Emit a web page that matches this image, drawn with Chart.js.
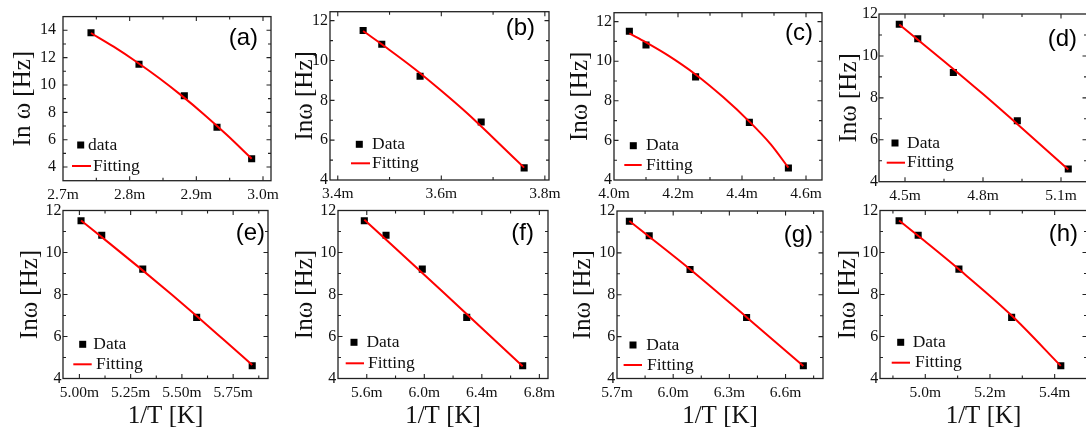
<!DOCTYPE html>
<html><head><meta charset="utf-8">
<script src="https://cdn.jsdelivr.net/npm/chart.js@4.4.1/dist/chart.umd.min.js"></script>
<style>
html,body{margin:0;padding:0;background:#fff;overflow:hidden;width:1086px;height:434px;}
#wrap{position:relative;width:1086px;height:434px;overflow:hidden;background:#fff;}
#wrap canvas{position:absolute;}
</style></head><body><div id="wrap"></div>
<script>
// ---------------- data ----------------
const panelNames = ['(a)','(b)','(c)','(d)','(e)','(f)','(g)','(h)'];
const yTitles = ['In ω [Hz]','Inω [Hz]','Inω [Hz]','Inω [Hz]','Inω [Hz]','Inω [Hz]','Inω [Hz]','Inω [Hz]'];
const xTitle = '1/T [K]';
const dataLabels = ['data','Data','Data','Data','Data','Data','Data','Data'];
const fitLabel = 'Fitting';

const yData_a = [13.82, 11.51, 9.21, 6.91, 4.61];
const yData = [11.51, 10.82, 9.21, 6.91, 4.61];

const xData_a = [2.742, 2.814, 2.882, 2.931, 2.983];
const xData_b = [3.449, 3.485, 3.559, 3.677, 3.760];
const xData_c = [4.048, 4.100, 4.255, 4.423, 4.545];
const xData_d = [4.478, 4.549, 4.686, 4.932, 5.128];
const xData_e = [5.008, 5.109, 5.309, 5.572, 5.843];
const xData_f = [5.583, 5.734, 5.986, 6.295, 6.684];
const xData_g = [5.766, 5.872, 6.090, 6.392, 6.695];
const xData_h = [4.919, 4.978, 5.104, 5.267, 5.419];

const fitX_a = [2.742, 2.776, 2.810, 2.844, 2.878, 2.912, 2.946, 2.983];
const fitY_a = [13.80, 12.80, 11.70, 10.51, 9.22, 7.83, 6.34, 4.61];
const fitX_b = [3.449, 3.50, 3.55, 3.60, 3.65, 3.70, 3.760];
const fitY_b = [11.48, 10.53, 9.55, 8.48, 7.35, 6.12, 4.62];
const fitX_c = [4.048, 4.10, 4.17, 4.255, 4.34, 4.423, 4.49, 4.545];
const fitY_c = [11.40, 10.95, 10.28, 9.33, 8.20, 6.95, 5.80, 4.62];
const fitX_d = [4.478, 4.65, 4.80, 4.95, 5.128];
const fitY_d = [11.50, 9.75, 8.18, 6.55, 4.58];
const fitX_e = [5.008, 5.15, 5.30, 5.45, 5.572, 5.70, 5.843];
const fitY_e = [11.52, 10.41, 9.22, 8.00, 6.98, 5.88, 4.64];
const fitX_f = [5.583, 6.13, 6.684];
const fitY_f = [11.56, 8.12, 4.58];
const fitX_g = [5.766, 6.090, 6.392, 6.695];
const fitY_g = [11.52, 9.22, 6.93, 4.60];
const fitX_h = [4.919, 5.00, 5.104, 5.267, 5.419];
const fitY_h = [11.52, 10.52, 9.20, 7.00, 4.60];

const xTicks_a = [2.7, 2.8, 2.9, 3.0];     const xTickLabels_a = ['2.7m','2.8m','2.9m','3.0m'];
const xTicks_b = [3.4, 3.6, 3.8];          const xTickLabels_b = ['3.4m','3.6m','3.8m'];
const xTicks_c = [4.0, 4.2, 4.4, 4.6];     const xTickLabels_c = ['4.0m','4.2m','4.4m','4.6m'];
const xTicks_d = [4.5, 4.8, 5.1];          const xTickLabels_d = ['4.5m','4.8m','5.1m'];
const xTicks_e = [5.00, 5.25, 5.50, 5.75]; const xTickLabels_e = ['5.00m','5.25m','5.50m','5.75m'];
const xTicks_f = [5.6, 6.0, 6.4, 6.8];     const xTickLabels_f = ['5.6m','6.0m','6.4m','6.8m'];
const xTicks_g = [5.7, 6.0, 6.3, 6.6];     const xTickLabels_g = ['5.7m','6.0m','6.3m','6.6m'];
const xTicks_h = [5.0, 5.2, 5.4];          const xTickLabels_h = ['5.0m','5.2m','5.4m'];
const yTicks_a = [4, 6, 8, 10, 12, 14];
const yTicks = [4, 6, 8, 10, 12];

// ---------------- assembly ----------------
const series = [
  {xs:xData_a, ys:yData_a, fx:fitX_a, fy:fitY_a, xt:xTicks_a, xl:xTickLabels_a, yt:yTicks_a},
  {xs:xData_b, ys:yData, fx:fitX_b, fy:fitY_b, xt:xTicks_b, xl:xTickLabels_b, yt:yTicks},
  {xs:xData_c, ys:yData, fx:fitX_c, fy:fitY_c, xt:xTicks_c, xl:xTickLabels_c, yt:yTicks},
  {xs:xData_d, ys:yData, fx:fitX_d, fy:fitY_d, xt:xTicks_d, xl:xTickLabels_d, yt:yTicks},
  {xs:xData_e, ys:yData, fx:fitX_e, fy:fitY_e, xt:xTicks_e, xl:xTickLabels_e, yt:yTicks},
  {xs:xData_f, ys:yData, fx:fitX_f, fy:fitY_f, xt:xTicks_f, xl:xTickLabels_f, yt:yTicks},
  {xs:xData_g, ys:yData, fx:fitX_g, fy:fitY_g, xt:xTicks_g, xl:xTickLabels_g, yt:yTicks},
  {xs:xData_h, ys:yData, fx:fitX_h, fy:fitY_h, xt:xTicks_h, xl:xTickLabels_h, yt:yTicks}
];

// layout / style (page pixels)
const layouts = [
  {L:63,  T:11.7,  R:271,  B:180.7, TX:23,  row:0, xmin:2.7,   xmax:3.012, ymin:3, ymax:15,    xMinor:0.05,  yPad:7,
   lab:{dx:13,dy:22},  leg:{mx:17.7,my:-35.7,lx1:9,lx2:28,ly:-14.7,t1:25,t2:30}},
  {L:330, T:11.7,  R:549,  B:180,   TX:305, row:0, xmin:3.385, xmax:3.808, ymin:4, ymax:12.45, xMinor:0.1,   yPad:2,
   lab:{dx:14,dy:17},  leg:{mx:29.3,my:-35.7,lx1:21,lx2:40,ly:-16.7,t1:42,t2:42}},
  {L:614, T:12.7,  R:822,  B:180,   TX:580, row:0, xmin:4.0,   xmax:4.65,  ymin:4, ymax:12.45, xMinor:0.1,   yPad:2,
   lab:{dx:9,dy:21},   leg:{mx:19.3,my:-34.3,lx1:10.3,lx2:27.7,ly:-15,t1:32,t2:32}},
  {L:879, T:14,    R:1087, B:181.7, TX:849, row:0, xmin:4.4,   xmax:5.2,   ymin:4, ymax:12,    xMinor:0.15,  yPad:1,
   lab:{dx:10,dy:25},  leg:{mx:16,my:-38.7,lx1:7.7,lx2:26,ly:-19,t1:28,t2:28}},
  {L:63,  T:210.5, R:268,  B:378.5, TX:30,  row:1, xmin:4.92,  xmax:5.92,  ymin:4, ymax:12,    xMinor:0.125, yPad:1.5,
   lab:{dx:3,dy:23},   leg:{mx:19.7,my:-34.2,lx1:10.3,lx2:28.7,ly:-14.2,t1:30.3,t2:33}},
  {L:338, T:210.5, R:548,  B:378.5, TX:305, row:1, xmin:5.4,   xmax:6.86,  ymin:4, ymax:12,    xMinor:0.2,   yPad:1.7,
   lab:{dx:14,dy:23},  leg:{mx:16,my:-36.2,lx1:7.7,lx2:26,ly:-15.2,t1:28.4,t2:30}},
  {L:617, T:211,   R:823,  B:378.5, TX:583, row:1, xmin:5.7,   xmax:6.8,   ymin:4, ymax:12,    xMinor:0.15,  yPad:1.7,
   lab:{dx:10,dy:24},  leg:{mx:16,my:-33.5,lx1:6.6,lx2:25,ly:-13.5,t1:29.3,t2:30}},
  {L:880, T:210.5, R:1087, B:378.5, TX:848, row:1, xmin:4.86,  xmax:5.5,   ymin:4, ymax:12,    xMinor:0.1,   yPad:1.7,
   lab:{dx:9,dy:24},   leg:{mx:20.7,my:-36.2,lx1:11.7,lx2:30,ly:-15.8,t1:32.7,t2:35}}
];

const SERIF = "'Liberation Serif','Times New Roman',serif";
const SANS = "'Liberation Sans',Arial,sans-serif";
const INK = '#111';
const RED = '#ff0000';
Chart.defaults.font.family = SERIF;
Chart.defaults.color = INK;

const wrap = document.getElementById('wrap');

function framePlugin(i, s, c) {
  return {
    id: 'frame' + i,
    afterDraw(chart) {
      const {ctx, chartArea: a} = chart;
      const xs = chart.scales.x, ys = chart.scales.y;
      ctx.save();
      ctx.strokeStyle = '#222';
      ctx.lineWidth = 1.1;
      const MAJ = 4.5, MIN = 3;
      const isMajor = (arr, v, st) => arr.some(t => Math.abs(t - v) < st * 0.01);
      let v0 = s.xt[0];
      while (v0 - c.xMinor >= c.xmin - 1e-9) v0 -= c.xMinor;
      ctx.beginPath();
      for (let v = v0; v <= c.xmax + 1e-9; v += c.xMinor) {
        const px = xs.getPixelForValue(v);
        if (px < a.left + 1 || px > a.right - 1) continue;
        const len = isMajor(s.xt, v, c.xMinor) ? MAJ : MIN;
        ctx.moveTo(px, a.bottom); ctx.lineTo(px, a.bottom - len);
        ctx.moveTo(px, a.top); ctx.lineTo(px, a.top + len);
      }
      let w0 = s.yt[0];
      while (w0 - 1 >= c.ymin - 1e-9) w0 -= 1;
      for (let v = w0; v <= c.ymax + 1e-9; v += 1) {
        const py = ys.getPixelForValue(v);
        if (py < a.top + 1 || py > a.bottom - 1) continue;
        const len = isMajor(s.yt, v, 1) ? MAJ : MIN;
        ctx.moveTo(a.left, py); ctx.lineTo(a.left + len, py);
        ctx.moveTo(a.right, py); ctx.lineTo(a.right - len, py);
      }
      ctx.stroke();
      ctx.lineWidth = 1.3;
      ctx.strokeStyle = '#222';
      ctx.strokeRect(a.left, a.top, a.right - a.left, a.bottom - a.top);
      // panel label
      ctx.fillStyle = '#000';
      ctx.font = '24px ' + SANS;
      ctx.textAlign = 'right';
      ctx.textBaseline = 'middle';
      ctx.fillText(panelNames[i], a.right - c.lab.dx, a.top + c.lab.dy);
      // legend
      const g = c.leg;
      const ds0 = chart.data.datasets[0], ds1 = chart.data.datasets[1];
      ctx.fillStyle = ds1.backgroundColor;
      ctx.fillRect(a.left + g.mx - 3.5, a.bottom + g.my - 3.5, 7, 7);
      ctx.strokeStyle = ds0.borderColor;
      ctx.lineWidth = ds0.borderWidth;
      ctx.beginPath();
      ctx.moveTo(a.left + g.lx1, a.bottom + g.ly);
      ctx.lineTo(a.left + g.lx2, a.bottom + g.ly);
      ctx.stroke();
      ctx.fillStyle = INK;
      ctx.font = '17.5px ' + SERIF;
      ctx.textAlign = 'left';
      ctx.fillText(ds1.label, a.left + g.t1, a.bottom + g.my);
      ctx.fillText(ds0.label, a.left + g.t2, a.bottom + g.ly);
      ctx.restore();
    }
  };
}

function makeChart(i) {
  const s = series[i], c = layouts[i];
  const rowTop = c.row === 0 ? 0 : 190;
  const rowBot = c.row === 0 ? 205 : 434;
  const left = c.TX - 15;
  const right = c.R + 34;
  const W = Math.round(right - left), H = rowBot - rowTop;
  const cv = document.createElement('canvas');
  cv.width = W; cv.height = H;
  cv.style.left = left + 'px'; cv.style.top = rowTop + 'px';
  cv.style.width = W + 'px'; cv.style.height = H + 'px';
  wrap.appendChild(cv);
  new Chart(cv, {
    type: 'scatter',
    data: {
      datasets: [
        {label: fitLabel, data: s.fx.map((x, k) => ({x: x, y: s.fy[k]})), showLine: true,
         borderColor: RED, borderWidth: 2, pointRadius: 0, cubicInterpolationMode: 'monotone', fill: false},
        {label: dataLabels[i], data: s.xs.map((x, k) => ({x: x, y: s.ys[k]})), showLine: false,
         pointStyle: 'rect', pointRadius: 5, backgroundColor: '#000', borderColor: '#000', borderWidth: 0}
      ]
    },
    options: {
      responsive: false, animation: false, devicePixelRatio: 1, events: [],
      layout: {padding: {left: 0, top: c.T - rowTop, right: right - c.R, bottom: 0}},
      plugins: {legend: {display: false}, tooltip: {enabled: false}},
      scales: {
        x: {
          type: 'linear', position: 'bottom', min: c.xmin, max: c.xmax,
          grid: {display: false, drawTicks: false}, border: {display: false},
          afterBuildTicks: sc => { sc.ticks = s.xt.map(v => ({value: v})); },
          afterFit: sc => { sc.height = rowBot - c.B; },
          ticks: {autoSkip: false, maxRotation: 0, minRotation: 0, padding: 5, color: INK,
                  font: {size: 15.5, family: SERIF}, callback: (v, idx) => s.xl[idx]},
          title: {display: c.row === 1, text: xTitle, color: INK, font: {size: 25, family: SERIF},
                  padding: {top: 0, bottom: 2.5}}
        },
        y: {
          type: 'linear', position: 'left', min: c.ymin, max: c.ymax,
          grid: {display: false, drawTicks: false}, border: {display: false},
          afterBuildTicks: sc => { sc.ticks = s.yt.map(v => ({value: v})); },
          afterFit: sc => { sc.width = c.L - left; },
          ticks: {autoSkip: false, padding: c.yPad, color: INK, font: {size: 16, family: SERIF},
                  callback: v => String(v)},
          title: {display: true, text: yTitles[i], color: INK, font: {size: 25, family: SERIF},
                  padding: {top: 0, bottom: 0}}
        }
      }
    },
    plugins: [framePlugin(i, s, c)]
  });
}

for (let i = 0; i < 8; i++) makeChart(i);
</script>
</body></html>
